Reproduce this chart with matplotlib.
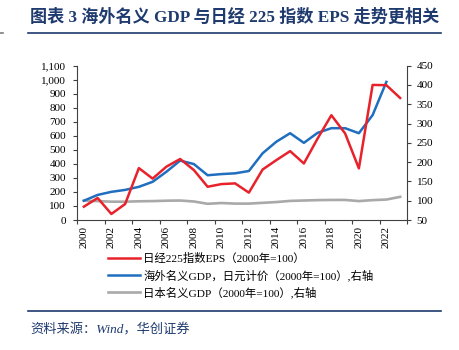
import matplotlib
matplotlib.use("Agg")
import matplotlib.pyplot as plt
from matplotlib.ticker import FixedLocator, FuncFormatter, NullFormatter

plt.rcParams['font.family'] = ['Liberation Serif', 'Noto Sans CJK SC', 'DejaVu Sans']

years = list(range(2000, 2024))
eps = [95, 157, 43, 114, 370, 295, 380, 435, 356, 237, 256, 261, 195, 360,
       427, 491, 403, 581, 747, 617, 368, 963, 961, 870]
overseas_gdp = [100, 115, 123, 128, 136, 149, 175, 204, 195, 166, 169, 171, 177,
                223, 253, 275, 250, 276, 288, 288, 275, 322, 408]
japan_gdp = [100, 99, 97.5, 97.5, 98.5, 99, 100, 100.5, 98, 92, 94, 92.5, 92.5,
             94.5, 96.5, 99.5, 100.5, 101.5, 102, 102, 99, 101.5, 103, 110]

labels = ['日经225指数EPS（2000年=100）',
          '海外名义GDP，日元计价（2000年=100）,右轴',
          '日本名义GDP（2000年=100）,右轴']

navy = '#1F3A6E'
red = '#E8222B'
blue = '#1F6EBF'
gray = '#A9A9A9'

fig = plt.figure(figsize=(4.59, 3.5), dpi=100)
ax = fig.add_axes([77 / 459, 1 - 220 / 350, 330 / 459, 154.3 / 350])
ax2 = ax.twinx()

l1, = ax.plot(years, eps, color=red, lw=1.8, zorder=3)
l2, = ax2.plot(years[:len(overseas_gdp)], overseas_gdp, color=blue, lw=1.8, zorder=3)
l3, = ax2.plot(years, japan_gdp, color=gray, lw=1.9, zorder=2)

ax.set_zorder(ax2.get_zorder() + 1)
ax.patch.set_visible(False)

ax.set_xlim(1999.5, 2023.5)
ax.set_ylim(0, 1100)
ax2.set_ylim(50, 450)
ax.set_yticks(range(0, 1101, 100))
ax.yaxis.set_major_formatter(FuncFormatter(lambda v, p: f'{int(v):,}'))
ax2.set_yticks(range(50, 451, 50))

ax.xaxis.set_major_locator(FixedLocator([1999.5 + 2 * k for k in range(13)]))
ax.xaxis.set_major_formatter(NullFormatter())
ax.xaxis.set_minor_locator(FixedLocator(list(range(2000, 2023, 2))))
ax.xaxis.set_minor_formatter(FuncFormatter(lambda v, p: str(int(round(v)))))
ax.tick_params(axis='x', which='minor', length=0, labelrotation=90, labelsize=8, pad=4)
ax.tick_params(axis='x', which='major', length=3, width=0.8, color='#404040')
ax.tick_params(axis='y', length=3, width=0.8, labelsize=8, color='#404040', pad=5)
ax2.tick_params(axis='y', length=3, width=0.8, labelsize=8, color='#404040', pad=4)

for a in (ax, ax2):
    a.spines['top'].set_visible(False)
    for s in ('left', 'right', 'bottom'):
        a.spines[s].set_color('#404040')
        a.spines[s].set_linewidth(0.8)
ax.spines['right'].set_visible(False)
ax2.spines['left'].set_visible(False)
ax2.spines['bottom'].set_visible(False)

fig.legend([l1, l2, l3], labels, loc='upper left',
           bbox_to_anchor=(108 / 459, 1 - 253 / 350), frameon=False,
           fontsize=8.2, handlelength=2.8, labelspacing=0.45, handletextpad=0.3,
           borderaxespad=0, borderpad=0)

fig.text(30 / 459, 1 - 17 / 350, '图表 3 海外名义 GDP 与日经 225 指数 EPS 走势更相关',
         color=navy, fontsize=12.3, fontweight='bold', va='center', ha='left')
fig.add_artist(plt.Line2D([28 / 459, 441 / 459], [1 - 33 / 350] * 2, color=navy, lw=1.2))
fig.add_artist(plt.Line2D([0, 3 / 459], [1 - 33 / 350] * 2, color='#7F7F7F', lw=1.2))
fig.add_artist(plt.Line2D([28 / 459, 441 / 459], [1 - 311 / 350] * 2, color=navy, lw=1.2))
fig.text(30 / 459, 1 - 330 / 350, '资料来源：Wind，华创证券', color=navy, fontsize=9.5,
         style='italic', va='center', ha='left')

fig.savefig('out.png', dpi=100)
